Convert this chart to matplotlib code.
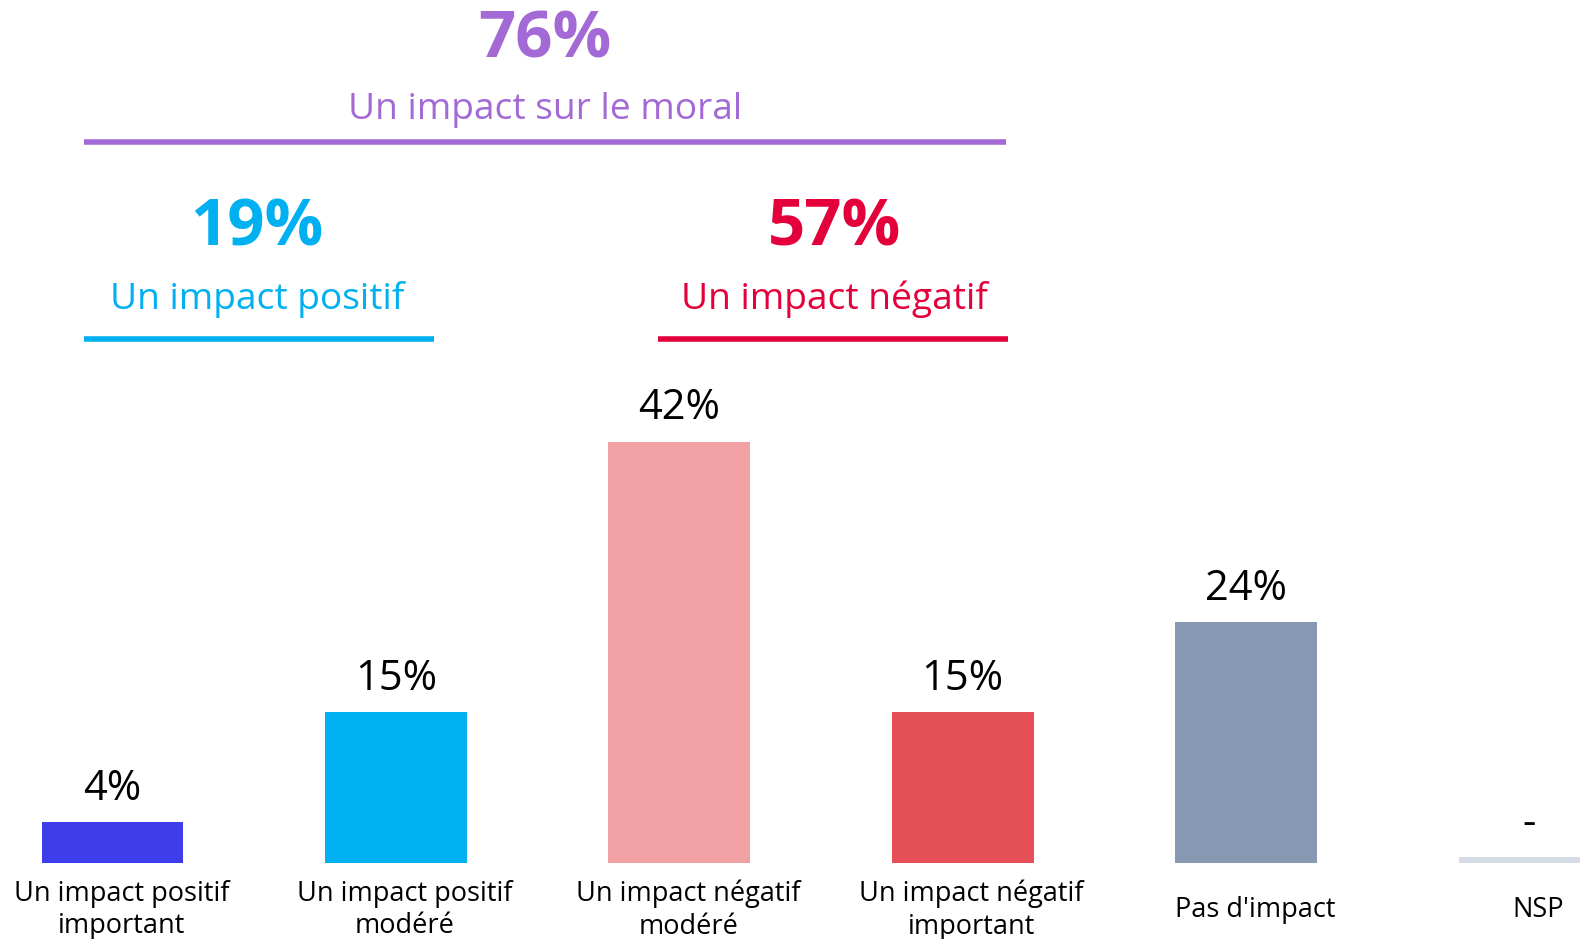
import matplotlib.pyplot as plt
import matplotlib.transforms as mtransforms

plt.rcParams['font.family'] = ['Open Sans', 'DejaVu Sans']

# data
categories = ["Un impact positif\nimportant", "Un impact positif\nmodéré",
              "Un impact négatif\nmodéré", "Un impact négatif\nimportant",
              "Pas d'impact", "NSP"]
values = [4, 15, 42, 15, 24, 0]
value_labels = ["4%", "15%", "42%", "15%", "24%", "-"]
bar_colors = ["#3D3DEB", "#00B0F0", "#F1A1A3", "#E55057", "#8799B2", "#D6DCE5"]

group_values = ["76%", "19%", "57%"]
group_names = ["Un impact sur le moral", "Un impact positif", "Un impact négatif"]
group_colors = ["#A36AD6", "#00B0F0", "#E4003B"]

W, H = 1580, 939
fig = plt.figure(figsize=(W / 100, H / 100), dpi=100)
fig.patch.set_facecolor('white')

# bar axes: baseline at y=862 px, 10.02 px per percent
base_px = 862.5
ax_h = 0.5
ax = fig.add_axes([0, (H - base_px) / H, 1, ax_h])
px_per_unit = 283.4
x0_px = 112.5
ax.set_xlim(-x0_px / px_per_unit, (W - x0_px) / px_per_unit)
ax.set_ylim(0, ax_h * H / 10.02)
ax.axis('off')

xs = list(range(len(categories)))
shown = [max(v, 0.5) for v in values]
ax.bar(xs, shown, width=0.5, color=bar_colors, clip_on=True)

for x, v, lab in zip(xs, shown, value_labels):
    ax.annotate(lab, (x, v), xytext=(0, 16), textcoords='offset points',
                ha='center', va='baseline', fontsize=30, color='black')

# category labels, slightly shifted right
shift = mtransforms.ScaledTranslation(9 / 100, 0, fig.dpi_scale_trans)
trans = mtransforms.blended_transform_factory(ax.transData, fig.transFigure) + shift
for x, cat in zip(xs, categories):
    ax.text(x, 1 - 910 / H, cat, transform=trans, ha='center', va='center',
            fontsize=19.5, color='black', linespacing=1.22, multialignment='center')

# group headings
def fy(py):
    return 1 - py / H

heads = [(545, 41, 110, 142, 84, 1006),
         (257, 229, 299, 339, 84, 434),
         (834, 229, 299, 339, 658, 1008)]
for (cx, y_big, y_txt, y_line, lx0, lx1), val, name, col in zip(
        heads, group_values, group_names, group_colors):
    fig.text(cx / W, fy(y_big), val, ha='center', va='center', fontsize=47,
             fontweight='bold', color=col)
    fig.text(cx / W, fy(y_txt), name, ha='center', va='center', fontsize=26.7,
             color=col)
    fig.add_artist(plt.Line2D([lx0 / W, lx1 / W], [fy(y_line), fy(y_line)],
                              transform=fig.transFigure, color=col, linewidth=4,
                              solid_capstyle='butt'))

plt.savefig('out.png', dpi=100, facecolor=fig.get_facecolor())
plt.close()
